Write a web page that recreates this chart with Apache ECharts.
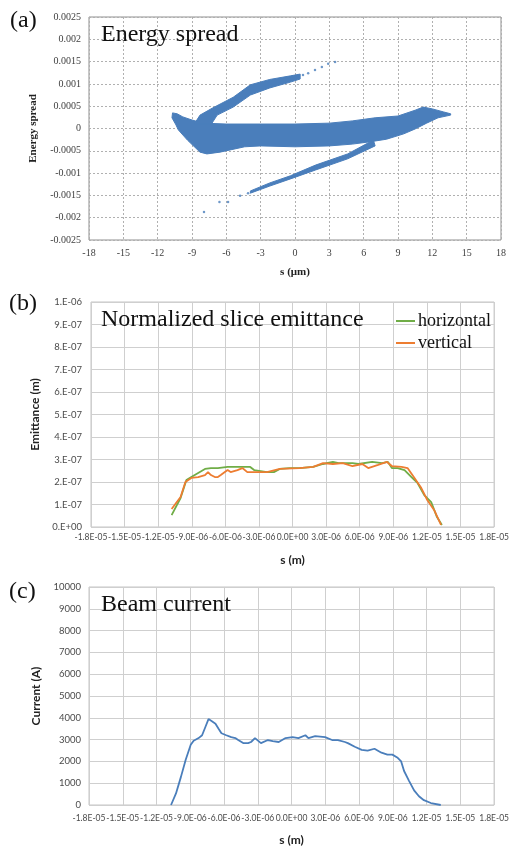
<!DOCTYPE html>
<html>
<head>
<meta charset="utf-8">
<script src="https://cdn.jsdelivr.net/npm/echarts/dist/echarts.min.js"></script>
<style>
  html, body { margin: 0; padding: 0; background: #fff; }
  #chart { width: 512px; height: 847px; }
</style>
</head>
<body>
<div id="chart"></div>
<script>
// (a) energy spread: outlines of the particle cloud, [s (um), dE/E]
const coreTop = [[-10.7, 0.00035], [-10.3, 0.00033], [-9.8, 0.00026], [-9.0, 0.00019], [-8.0, 0.00012],
  [-6, 0.0001], [-3, 0.0001], [0, 0.0001], [3, 0.00012], [5, 0.00017], [7, 0.00024], [9, 0.00028],
  [10.5, 0.00041], [11.2, 0.00048], [12, 0.00044], [13, 0.00037], [13.6, 0.00033]];
const coreBottom = [[13.6, 0.0003], [12.5, 0.00024], [11.5, 0.00012], [10.5, -0.00001], [9.5, -0.00012],
  [8, -0.00024], [6.5, -0.0003], [5, -0.00035], [3, -0.00039], [0, -0.00041], [-3, -0.00039],
  [-4.4, -0.00041], [-6.55, -0.00053], [-7.7, -0.00057], [-8.3, -0.00053], [-9.4, -0.00026],
  [-10.2, -0.00003], [-10.4, 0.00008], [-10.75, 0.00024]];
const upperArm = [[-8.3, 0.0003], [-7.2, 0.00046], [-5.4, 0.0007], [-3.9, 0.00098], [-2.2, 0.0011],
  [-0.4, 0.00118], [0.45, 0.00122], [0.45, 0.00111], [-0.4, 0.00104], [-2.2, 0.00091], [-3.9, 0.00075],
  [-5.4, 0.00048], [-6.8, 0.0003], [-7.3, 0.0001], [-8.8, 0.0001]];
const lowerArm = [[6.85, -0.00026], [4.6, -0.00057], [1.8, -0.00082], [-0.4, -0.00106], [-2.2, -0.00122],
  [-3.9, -0.0014], [-3.9, -0.00145], [-2.2, -0.00129], [-0.4, -0.00113], [1.8, -0.00093],
  [4.6, -0.00068], [7.0, -0.00039]];
const strayDots = [[0.7, 0.0012], [1.15, 0.00124], [1.75, 0.00131], [2.35, 0.00138], [2.9, 0.00145],
  [3.5, 0.00149], [-4.1, -0.00145], [-4.8, -0.00151], [-5.85, -0.00165], [-6.6, -0.00165], [-7.95, -0.00187]];

// (b) slice emittance, s in um, emittance in 1e-7 m
const emitSH = [-10.8, -10.0, -9.48, -9.04, -8.43, -7.82, -7.29, -6.67, -5.8, -4.92, -4.3, -3.78, -3.43,
  -2.28, -1.67, -1.14, -0.27, 0.61, 1.84, 2.72, 3.6, 4.12, 5.35, 5.88, 7.11, 7.99, 8.52, 8.87, 9.39,
  10.0, 10.62, 11.15, 11.76, 12.38, 12.9, 13.34];
const emitH = [0.53, 1.29, 2.09, 2.22, 2.4, 2.58, 2.62, 2.62, 2.67, 2.67, 2.67, 2.67, 2.53, 2.44, 2.44,
  2.58, 2.62, 2.62, 2.67, 2.8, 2.89, 2.84, 2.84, 2.8, 2.89, 2.84, 2.89, 2.62, 2.62, 2.53, 2.22, 1.96,
  1.42, 1.11, 0.44, 0.09];
const emitSV = [-10.8, -10.0, -9.57, -9.04, -8.43, -7.82, -7.55, -7.29, -6.94, -6.67, -6.41, -5.8, -5.53,
  -4.92, -4.48, -4.04, -3.6, -3.16, -2.28, -1.14, 0.61, 1.84, 2.72, 3.6, 4.48, 5.35, 6.23, 6.76, 7.64,
  8.43, 8.87, 9.74, 10.27, 10.89, 11.5, 12.03, 12.64, 13.26];
const emitV = [0.8, 1.33, 2.0, 2.18, 2.22, 2.31, 2.44, 2.31, 2.22, 2.22, 2.31, 2.53, 2.44, 2.53, 2.62,
  2.44, 2.44, 2.44, 2.44, 2.58, 2.62, 2.67, 2.84, 2.8, 2.84, 2.71, 2.8, 2.62, 2.76, 2.89, 2.71, 2.67,
  2.62, 2.18, 1.73, 1.2, 0.76, 0.09];

// (c) beam current, s in um, current in A
const curS = [-10.71, -10.27, -9.83, -9.4, -8.96, -8.7, -8.26, -7.95, -7.64, -7.38, -7.11, -6.76, -6.5,
  -6.23, -5.8, -5.36, -5.0, -4.74, -4.3, -3.86, -3.6, -3.25, -2.72, -2.1, -1.67, -1.14, -0.53, 0.09,
  0.61, 1.23, 1.5, 2.1, 2.98, 3.6, 4.12, 4.74, 5.0, 5.62, 6.23, 6.76, 7.37, 7.99, 8.52, 8.96, 9.39,
  9.74, 10.0, 10.44, 10.89, 11.32, 11.76, 12.38, 13.26];
const curI = [0, 530, 1290, 2090, 2760, 2950, 3070, 3200, 3600, 3940, 3850, 3730, 3510, 3290, 3200,
  3110, 3070, 2980, 2840, 2840, 2890, 3070, 2840, 2980, 2930, 2890, 3070, 3110, 3070, 3200, 3070,
  3160, 3110, 2980, 2980, 2890, 2840, 2670, 2530, 2490, 2580, 2400, 2310, 2310, 2180, 2000, 1560,
  1110, 670, 400, 220, 90, 0];

const blobShapes = [coreTop.concat(coreBottom), upperArm, lowerArm];

const SERIF = 'Liberation Serif';
const SANS = 'Lato';
const BLUE = '#4a7ebb';

function zip(xs, ys) {
  return xs.map((x, i) => [x, ys[i]]);
}

// -18 -> "-1.8E-05", 3 -> "3.0E-06"
function sciMeters(v) {
  if (v === 0) return '0.0E+00';
  const a = Math.abs(v);
  const txt = a >= 10 ? (a / 10).toFixed(1) + 'E-05' : a.toFixed(1) + 'E-06';
  return (v < 0 ? '-' : '') + txt;
}

function emitLabel(v) {
  if (v === 0) return '0.E+00';
  if (v === 10) return '1.E-06';
  return v + '.E-07';
}

const bigTitle = { fontFamily: SERIF, fontSize: 24, fontWeight: 'normal', color: '#111' };
const sansLabel = { fontFamily: SANS, fontSize: 9.5, color: '#4a4a4a' };
// s labels kept just narrow enough that the first two do not get dropped
const sLabel = { interval: 0, showMinLabel: true, showMaxLabel: true, formatter: sciMeters,
  fontFamily: SANS, fontSize: 8.5, color: '#4a4a4a' };
const lightGrid = { show: true, lineStyle: { color: '#cfcfcf', width: 1 } };

const chart = echarts.init(document.getElementById('chart'), null, { renderer: 'canvas' });

chart.setOption({
  backgroundColor: '#fff',
  animation: false,
  title: [
    { text: '(a)', left: 10, top: 9, padding: 0, textStyle: bigTitle },
    { text: 'Energy spread', left: 101, top: 23, padding: 0, textStyle: bigTitle },
    { text: '(b)', left: 9, top: 292, padding: 0, textStyle: bigTitle },
    { text: 'Normalized slice emittance', left: 101, top: 308, padding: 0, textStyle: bigTitle },
    { text: '(c)', left: 9, top: 580, padding: 0, textStyle: bigTitle },
    { text: 'Beam current', left: 101, top: 593, padding: 0, textStyle: bigTitle }
  ],
  legend: {
    data: ['horizontal', 'vertical'],
    orient: 'vertical',
    left: 396,
    top: 312,
    padding: 0,
    itemGap: 4,
    itemWidth: 19,
    itemHeight: 2,
    icon: 'rect',
    textStyle: { fontFamily: SERIF, fontSize: 18, lineHeight: 18, color: '#111', padding: [0, 0, 0, -2] }
  },
  grid: [
    { left: 89, right: 11, top: 17, height: 223, show: true, borderColor: '#8f8f8f', borderWidth: 1 },
    { left: 91, right: 11, top: 302, height: 225, show: true, borderColor: '#c4c4c4', borderWidth: 1 },
    { left: 89, right: 13, top: 587, height: 225, show: true, borderColor: '#c4c4c4', borderWidth: 1 }
  ],
  xAxis: [
    {
      gridIndex: 0, type: 'value', min: -18, max: 18, interval: 3,
      name: 's (\u03bcm)', nameLocation: 'middle', nameGap: 27,
      nameTextStyle: { fontFamily: SERIF, fontSize: 11, fontWeight: 'bold', color: '#222' },
      axisLine: { show: false }, axisTick: { show: false },
      axisLabel: { fontFamily: SERIF, fontSize: 10, color: '#404040', margin: 8 },
      splitLine: { show: true, lineStyle: { color: '#b0b0b0', type: [2, 2] } }
    },
    {
      gridIndex: 1, type: 'value', min: -18, max: 18, interval: 3,
      name: 's (m)', nameLocation: 'middle', nameGap: 27,
      nameTextStyle: { fontFamily: SANS, fontSize: 12, fontWeight: 'bold', color: '#222' },
      axisLine: { show: false }, axisTick: { show: false },
      axisLabel: Object.assign({ margin: 6 }, sLabel),
      splitLine: lightGrid
    },
    {
      gridIndex: 2, type: 'value', min: -18, max: 18, interval: 3,
      name: 's (m)', nameLocation: 'middle', nameGap: 29,
      nameTextStyle: { fontFamily: SANS, fontSize: 12, fontWeight: 'bold', color: '#222' },
      axisLine: { show: false }, axisTick: { show: false },
      axisLabel: Object.assign({ margin: 9 }, sLabel),
      splitLine: lightGrid
    }
  ],
  yAxis: [
    {
      gridIndex: 0, type: 'value', min: -0.0025, max: 0.0025, interval: 0.0005,
      name: 'Energy spread', nameLocation: 'middle', nameGap: 50,
      nameTextStyle: { fontFamily: SERIF, fontSize: 11, fontWeight: 'bold', color: '#222' },
      axisLine: { show: false }, axisTick: { show: false },
      axisLabel: { fontFamily: SERIF, fontSize: 10, color: '#404040', margin: 8 },
      splitLine: { show: true, lineStyle: { color: '#b0b0b0', type: [2, 2] } }
    },
    {
      gridIndex: 1, type: 'value', min: 0, max: 10, interval: 1,
      name: 'Emittance (m)', nameLocation: 'middle', nameGap: 47,
      nameTextStyle: { fontFamily: SANS, fontSize: 12, fontWeight: 'bold', color: '#222' },
      axisLine: { show: false }, axisTick: { show: false },
      axisLabel: Object.assign({ margin: 9, formatter: emitLabel }, sansLabel),
      splitLine: lightGrid
    },
    {
      gridIndex: 2, type: 'value', min: 0, max: 10000, interval: 1000,
      name: 'Current (A)', nameLocation: 'middle', nameGap: 44,
      nameTextStyle: { fontFamily: SANS, fontSize: 12, fontWeight: 'bold', color: '#222' },
      axisLine: { show: false }, axisTick: { show: false },
      axisLabel: Object.assign({ margin: 8, formatter: v => String(v) }, sansLabel),
      splitLine: lightGrid
    }
  ],
  series: [
    {
      type: 'custom',
      xAxisIndex: 0, yAxisIndex: 0,
      data: blobShapes.map(s => s[0]),
      clip: true,
      renderItem: function (params, api) {
        const pts = blobShapes[params.dataIndex].map(p => api.coord(p));
        return { type: 'polygon', shape: { points: pts }, style: { fill: BLUE, stroke: BLUE, lineWidth: 1 } };
      }
    },
    {
      type: 'scatter',
      xAxisIndex: 0, yAxisIndex: 0,
      data: strayDots,
      symbolSize: 2.5,
      itemStyle: { color: BLUE }
    },
    {
      name: 'horizontal', type: 'line',
      xAxisIndex: 1, yAxisIndex: 1,
      data: zip(emitSH, emitH),
      showSymbol: false, symbol: 'none',
      lineStyle: { color: '#70ad47', width: 1.8 },
      itemStyle: { color: '#70ad47' }
    },
    {
      name: 'vertical', type: 'line',
      xAxisIndex: 1, yAxisIndex: 1,
      data: zip(emitSV, emitV),
      showSymbol: false, symbol: 'none',
      lineStyle: { color: '#ed7d31', width: 1.8 },
      itemStyle: { color: '#ed7d31' }
    },
    {
      type: 'line',
      xAxisIndex: 2, yAxisIndex: 2,
      data: zip(curS, curI),
      showSymbol: false, symbol: 'none',
      lineStyle: { color: BLUE, width: 1.8 },
      itemStyle: { color: BLUE }
    }
  ]
});
</script>
</body>
</html>
